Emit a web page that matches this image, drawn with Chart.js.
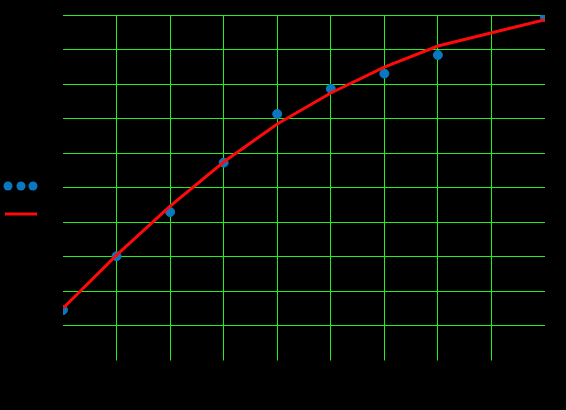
<!DOCTYPE html>
<html>
<head>
<meta charset="utf-8">
<script src="https://cdn.jsdelivr.net/npm/chart.js@4"></script>
<style>
  html, body { margin: 0; padding: 0; background: #000; }
  #wrap { width: 566px; height: 410px; }
</style>
</head>
<body>
<div id="wrap"><canvas id="c" width="566" height="410"></canvas></div>
<script>
// Observed data points (x, y)
const dataX = [0, 1, 2, 3, 4, 5, 6, 7, 9];
const dataY = [0.45, 2.01, 3.29, 4.72, 6.13, 6.86, 7.30, 7.84, 8.94];
// Fitted curve values at the same x
const fitX = [0, 1, 2, 3, 4, 5, 6, 7, 9];
const fitY = [0.50, 2.04, 3.46, 4.74, 5.84, 6.74, 7.49, 8.10, 8.86];
// Legend labels
const seriesNames = ['Data', 'Fit'];

const GRID = '#22ee22';
const BLUE = '#0a78c0';
const RED = '#ff0a0a';

// Background + side legend, drawn before the grid so nothing black covers it
const bgLegendPlugin = {
  id: 'bgLegend',
  beforeDraw(chart) {
    const ctx = chart.ctx;
    ctx.save();
    ctx.fillStyle = '#000';
    ctx.fillRect(0, 0, chart.width, chart.height);
    ctx.fillStyle = BLUE;
    [8, 21, 33].forEach(x => {
      ctx.beginPath();
      ctx.arc(x, 186, 4.5, 0, Math.PI * 2);
      ctx.fill();
    });
    ctx.strokeStyle = RED;
    ctx.lineWidth = 3;
    ctx.beginPath();
    ctx.moveTo(5, 214);
    ctx.lineTo(37, 214);
    ctx.stroke();
    ctx.fillStyle = '#000';
    ctx.font = '10px "DejaVu Sans"';
    ctx.textBaseline = 'middle';
    ctx.fillText(seriesNames[0], 40, 186);
    ctx.fillText(seriesNames[1], 40, 214);
    ctx.restore();
  }
};

const hideEdge = (ctx) => {
  const v = ctx.tick ? ctx.tick.value : null;
  return (v === 0 || v === 9) ? 'rgba(0,0,0,0)' : GRID;
};

new Chart(document.getElementById('c'), {
  type: 'scatter',
  data: {
    datasets: [
      {
        label: seriesNames[0],
        data: dataX.map((x, i) => ({ x: x, y: dataY[i] })),
        backgroundColor: BLUE,
        borderColor: BLUE,
        pointRadius: 4.5,
        showLine: false,
        order: 2
      },
      {
        label: seriesNames[1],
        type: 'line',
        data: fitX.map((x, i) => ({ x: x, y: fitY[i] })),
        borderColor: RED,
        backgroundColor: RED,
        borderWidth: 3,
        pointRadius: 0,
        tension: 0,
        fill: false,
        order: 1
      }
    ]
  },
  options: {
    responsive: false,
    animation: false,
    devicePixelRatio: 1,
    layout: { padding: { top: 15, right: 21, left: 0, bottom: 0 } },
    plugins: {
      legend: { display: false },
      tooltip: { enabled: false }
    },
    scales: {
      x: {
        type: 'linear',
        min: 0,
        max: 9,
        ticks: { stepSize: 1, color: '#000', font: { size: 12 } },
        border: { display: false },
        grid: { color: hideEdge, tickColor: hideEdge, tickLength: 35, lineWidth: 1 },
        title: { display: true, text: 'x', color: '#000' },
        afterFit(scale) { scale.height = 84.5; }
      },
      y: {
        type: 'linear',
        min: 0,
        max: 9,
        ticks: { stepSize: 1, color: '#000', font: { size: 12 } },
        border: { display: false },
        grid: { color: GRID, drawTicks: false, lineWidth: 1 },
        title: { display: true, text: 'y', color: '#000' },
        afterFit(scale) { scale.width = 63; }
      }
    }
  },
  plugins: [bgLegendPlugin]
});
</script>
</body>
</html>
